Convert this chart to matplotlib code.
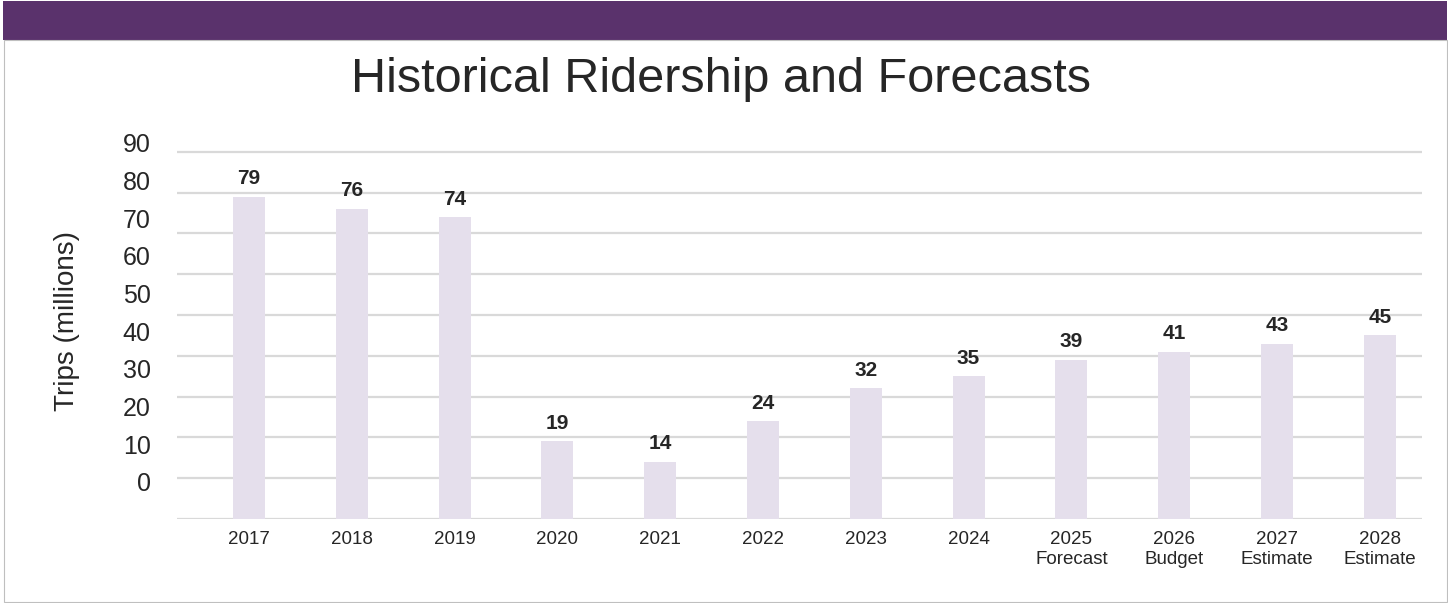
import matplotlib
matplotlib.use('Agg')
import matplotlib.pyplot as plt
from matplotlib.patches import Rectangle
import numpy as np

# chart data
years = ['2017', '2018', '2019', '2020', '2021', '2022', '2023', '2024',
         '2025\nForecast', '2026\nBudget', '2027\nEstimate', '2028\nEstimate']
trips = [79, 76, 74, 19, 14, 24, 32, 35, 39, 41, 43, 45]
grid_levels = [0, 10, 20, 30, 40, 50, 60, 70, 80, 90]
axis_labels = ['0', '10', '20', '30', '40', '50', '60', '70', '80', '90']

plt.rcParams['font.family'] = ['Liberation Sans', 'DejaVu Sans']
textcol = '#262626'
barcol = '#E5DFEC'
gridcol = '#D9D9D9'

W, H = 1448, 603
fig = plt.figure(figsize=(W / 100, H / 100), dpi=100)

# header band and frame
fig.patches.append(Rectangle((3 / W, (H - 40) / H), 1444 / W, 39 / H,
                             transform=fig.transFigure, facecolor='#5A326C',
                             edgecolor='none'))
fig.patches.append(Rectangle((4 / W, 1 / H), 1443 / W, 562 / H,
                             transform=fig.transFigure, facecolor='none',
                             edgecolor='#BFBFBF', linewidth=0.8))

fig.text(721 / W, 1 - 80 / H, 'Historical Ridership and Forecasts',
         ha='center', va='center', fontsize=35, color=textcol)
fig.text(67 / W, 1 - 321 / H, 'Trips (millions)', rotation=90,
         ha='center', va='center', fontsize=20, color=textcol)

ax = fig.add_axes([177 / W, 84 / H, 1245 / W, 379.4 / H])
x = np.arange(len(years))
ax.bar(x, trips, width=0.31, color=barcol, zorder=2)
for v in grid_levels:
    ax.axhline(v, color=gridcol, linewidth=1.6, zorder=1)

for xi, v in zip(x, trips):
    ax.annotate(str(v), (xi, v), xytext=(0, 13), textcoords='offset points',
                ha='center', va='center', fontsize=15, fontweight='bold',
                color=textcol)

ax.set_xlim(-0.70, 11.41)
ax.set_ylim(0, 93)
ax.set_xticks(x)
ax.set_xticklabels(years, fontsize=13.5, color=textcol)
# value labels sit on their own slightly compressed scale, as in the original
label_pos = 9.1 + np.array(grid_levels) * 0.923
ax.set_yticks(label_pos)
ax.set_yticklabels(axis_labels, fontsize=18, color=textcol)
ax.tick_params(axis='x', length=0, pad=9)
ax.tick_params(axis='y', length=0, pad=19)
for s in ax.spines.values():
    s.set_visible(False)
ax.patch.set_alpha(0)

fig.savefig('out.png', dpi=100)
